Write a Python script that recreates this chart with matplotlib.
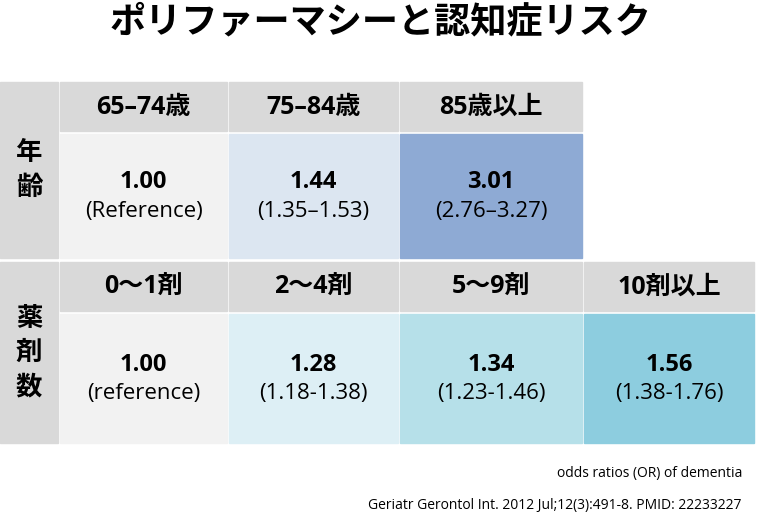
import matplotlib
matplotlib.use("Agg")
import matplotlib.pyplot as plt
from matplotlib.patches import Rectangle

plt.rcParams['font.family'] = ['Open Sans', 'Noto Sans CJK JP', 'DejaVu Sans']

title = "ポリファーマシーと認知症リスク"
row_labels = ["年\n齢", "薬\n剤\n数"]
age_headers = ["65–74歳", "75–84歳", "85歳以上"]
age_or = ["1.00", "1.44", "3.01"]
age_ci = ["(Reference)", "(1.35–1.53)", "(2.76–3.27)"]
age_colors = ["#f2f2f2", "#dce6f1", "#8eaad4"]
drug_headers = ["0〜1剤", "2〜4剤", "5〜9剤", "10剤以上"]
drug_or = ["1.00", "1.28", "1.34", "1.56"]
drug_ci = ["(reference)", "(1.18-1.38)", "(1.23-1.46)", "(1.38-1.76)"]
drug_colors = ["#f2f2f2", "#ddeff5", "#b6e0e9", "#8dcddf"]
note1 = "odds ratios (OR) of dementia"
note2 = "Geriatr Gerontol Int. 2012 Jul;12(3):491-8. PMID: 22233227"

W, H = 758, 525
fig = plt.figure(figsize=(W/100, H/100), dpi=100)
ax = fig.add_axes([0, 0, 1, 1])
ax.set_xlim(0, W); ax.set_ylim(H, 0); ax.axis('off')

ax.text(380, 22, title, ha='center', va='center', fontsize=26, fontweight='bold',
        family=['Noto Sans CJK JP'])

col_x = [60, 229, 400, 584, 756]
label_col = (0, 58)
hdr_gray = "#d9d9d9"
blocks = [
    (82, 133, 258, age_headers, age_or, age_ci, age_colors, row_labels[0]),
    (262, 313, 443, drug_headers, drug_or, drug_ci, drug_colors, row_labels[1]),
]
for (y0, y1, y2, hdrs, ors, cis, cols, lab) in blocks:
    ax.add_patch(Rectangle((label_col[0], y0), label_col[1], y2 - y0, color=hdr_gray))
    ax.text(29, (y0 + y2) / 2, lab, ha='center', va='center', fontsize=19,
            fontweight='bold', linespacing=1.35, family=['Noto Sans CJK JP'])
    for i, h in enumerate(hdrs):
        xa, xb = col_x[i], col_x[i + 1] - 2
        ax.add_patch(Rectangle((xa, y0), xb - xa, y1 - y0 - 2, color=hdr_gray))
        ax.text((xa + xb) / 2, (y0 + y1) / 2, h, ha='center', va='center',
                fontsize=18, fontweight='bold')
        ax.add_patch(Rectangle((xa, y1 + 1), xb - xa, y2 - y1 - 1, color=cols[i]))
        ym = (y1 + y2) / 2
        ax.text((xa + xb) / 2, ym - 13, ors[i], ha='center', va='center',
                fontsize=17, fontweight='bold')
        ax.text((xa + xb) / 2, ym + 16, cis[i], ha='center', va='center', fontsize=16)

ax.text(742, 473, note1, ha='right', va='center', fontsize=10)
ax.text(742, 506, note2, ha='right', va='center', fontsize=10)

fig.savefig("out.png", dpi=100)
